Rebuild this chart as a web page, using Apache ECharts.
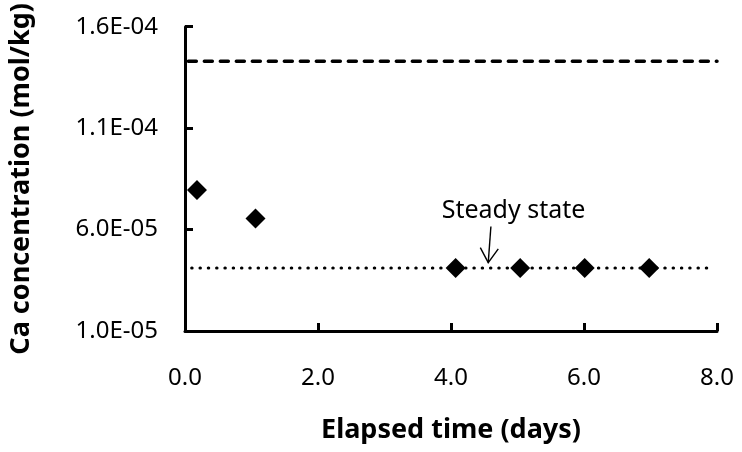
<!DOCTYPE html>
<html>
<head>
<meta charset="utf-8">
<title>Ca concentration</title>
<script src="https://cdn.jsdelivr.net/npm/echarts@6/dist/echarts.min.js"></script>
<style>
	html, body { margin: 0; padding: 0; background: #fff; }
	#chart { width: 742px; height: 452px; }
</style>
</head>
<body>
<div id="chart"></div>
<script>
// measured points (elapsed days, mol/kg)
var days = [0.18, 1.06, 4.07, 5.04, 6.01, 6.98];
var caConc = [7.95e-5, 6.55e-5, 4.1e-5, 4.1e-5, 4.1e-5, 4.1e-5];

// reference lines
var upperLineX = [0.05, 8.0];
var upperLineY = [1.43e-4, 1.43e-4];
var steadyLineX = [0.1, 7.9];
var steadyLineY = [4.1e-5, 4.1e-5];

// annotation "Steady state" (text anchor, arrow start, arrow tip)
var noteText = 'Steady state';
var notePos = [4.94, 6.9e-5];
var arrowFrom = [4.6, 6.15e-5];
var arrowTo = [4.56, 4.37e-5];

// axis ticks
var xTicks = [0, 2, 4, 6, 8];
var yTicks = [1.0e-5, 6.0e-5, 1.1e-4, 1.6e-4];

var font = '"Noto Sans", "Open Sans", sans-serif';

function zip(xs, ys) {
	var out = [];
	for (var i = 0; i < xs.length; i++) out.push([xs[i], ys[i]]);
	return out;
}

// 1.6e-4 -> 1.6E-04
function sci(v) {
	var s = v.toExponential(1).split('e');
	var exp = parseInt(s[1], 10);
	var sign = exp < 0 ? '-' : '+';
	var e = Math.abs(exp);
	return s[0] + 'E' + sign + (e < 10 ? '0' + e : e);
}

var myChart = echarts.init(document.getElementById('chart'), null, { renderer: 'canvas' });

var axisCommon = {
	axisLine: { show: true, lineStyle: { color: '#000', width: 3 } },
	axisTick: { show: true, inside: true, length: 8, lineStyle: { color: '#000', width: 3 } },
	splitLine: { show: false },
	axisLabel: { color: '#000', fontSize: 24, fontFamily: font },
	nameTextStyle: { color: '#000', fontSize: 27, fontWeight: 'bold', fontFamily: font }
};

var option = {
	backgroundColor: '#fff',
	animation: false,
	grid: { left: 183, right: 25, top: 22, bottom: 121, containLabel: false },
	xAxis: echarts.util.merge({
		type: 'value',
		min: xTicks[0],
		max: xTicks[xTicks.length - 1],
		interval: xTicks[1] - xTicks[0],
		name: 'Elapsed time (days)',
		nameLocation: 'middle',
		nameGap: 86,
		axisLabel: {
			margin: 35,
			formatter: function(v) { return v.toFixed(1); }
		}
	}, axisCommon),
	yAxis: echarts.util.merge({
		type: 'value',
		min: yTicks[0],
		max: yTicks[yTicks.length - 1],
		interval: yTicks[1] - yTicks[0],
		name: 'Ca concentration (mol/kg)',
		nameLocation: 'middle',
		nameGap: 150,
		axisLabel: {
			margin: 27,
			formatter: function(v) { return sci(v); }
		}
	}, axisCommon),
	series: [
		{
			name: 'upper',
			type: 'line',
			data: zip(upperLineX, upperLineY),
			symbol: 'none',
			lineStyle: { color: '#000', width: 3.5, type: [8, 8], cap: 'round' },
			silent: true
		},
		{
			name: 'steady',
			type: 'line',
			data: zip(steadyLineX, steadyLineY),
			symbol: 'none',
			lineStyle: { color: '#000', width: 3, type: [0.5, 7.8], cap: 'round' },
			silent: true
		},
		{
			name: 'Ca',
			type: 'scatter',
			data: zip(days, caConc),
			symbol: 'diamond',
			symbolSize: 20,
			itemStyle: { color: '#000', opacity: 1 }
		}
	]
};

myChart.setOption(option);

// annotation drawn in pixel space from data coords
var p0 = myChart.convertToPixel({ gridIndex: 0 }, arrowFrom);
var p1 = myChart.convertToPixel({ gridIndex: 0 }, arrowTo);
var pt = myChart.convertToPixel({ gridIndex: 0 }, notePos);
var ang = Math.atan2(p0[1] - p1[1], p0[0] - p1[0]);
var headLen = 17, headAng = 32 * Math.PI / 180;
var hl = [p1[0] + headLen * Math.cos(ang - headAng), p1[1] + headLen * Math.sin(ang - headAng)];
var hr = [p1[0] + headLen * Math.cos(ang + headAng), p1[1] + headLen * Math.sin(ang + headAng)];

myChart.setOption({
	graphic: [
		{
			type: 'line',
			shape: { x1: p0[0], y1: p0[1], x2: p1[0], y2: p1[1] },
			style: { stroke: '#000', lineWidth: 1.4 }
		},
		{
			type: 'polyline',
			shape: { points: [hl, p1, hr] },
			style: { stroke: '#000', lineWidth: 1.4, fill: null }
		},
		{
			type: 'text',
			x: pt[0],
			y: pt[1],
			style: {
				text: noteText,
				fill: '#000',
				fontSize: 25,
				fontFamily: font,
				align: 'center',
				verticalAlign: 'middle'
			}
		}
	]
});
</script>
</body>
</html>
